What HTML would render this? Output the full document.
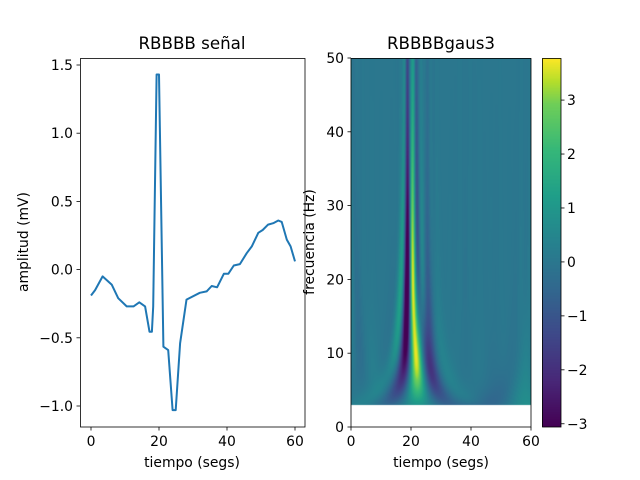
<!DOCTYPE html>
<html><head><meta charset="utf-8">
<style>
body{margin:0;background:#fff;}
svg text{font-family:"DejaVu Sans","Liberation Sans",sans-serif;fill:#000;}
</style></head>
<body>
<div style="position:relative;width:640px;height:480px">
<canvas id="hm" width="180" height="369" style="position:absolute;left:351px;top:58px"></canvas>
<canvas id="cb" width="19" height="369" style="position:absolute;left:542px;top:58px"></canvas>
<svg id="s" width="640" height="480" style="position:absolute;left:0;top:0"></svg>
</div>
<script>
const times=[0,1.2,3.4,6.1,8,10.5,12.5,14.2,15.9,17.2,17.9,18.3,19.3,20,21.3,22.7,24,24.9,26.2,28.1,32,34,35.5,37.1,39.1,40.4,42,43.8,45.8,47.3,49.2,50.5,52.1,53.6,55.1,56.1,57.6,58.7,60];
const amps=[-0.19,-0.15,-0.05,-0.11,-0.21,-0.27,-0.27,-0.24,-0.27,-0.455,-0.455,-0.27,1.43,1.43,-0.565,-0.59,-1.03,-1.03,-0.54,-0.22,-0.17,-0.16,-0.12,-0.13,-0.03,-0.03,0.03,0.04,0.12,0.17,0.27,0.29,0.33,0.34,0.36,0.35,0.22,0.17,0.06];
const xTicksL=[0,20,40,60];
const yTicksL=[-1.0,-0.5,0.0,0.5,1.0,1.5];
const xTicksR=[0,20,40,60];
const yTicksR=[0,10,20,30,40,50];
const cbTicks=[-3,-2,-1,0,1,2,3];
const freqRange=[3,50];
const cRange=[-3.06,3.78];

const S=document.getElementById('s');const NS='http://www.w3.org/2000/svg';
function el(t,a,txt){const e=document.createElementNS(NS,t);for(const k in a)e.setAttribute(k,a[k]);if(txt!==undefined)e.textContent=txt;S.appendChild(e);return e;}
const FS=13.9, TS=16.7;
const lx=t=>91+(t-0)*(295-91)/60;
const ly=v=>406-(v+1)*136.4;
let d='';times.forEach((t,i)=>{d+=(i?'L':'M')+lx(t).toFixed(1)+','+ly(amps[i]).toFixed(1);});
let p=el('path',{d:d,fill:'none',stroke:'#1f77b4','stroke-width':2,'stroke-linejoin':'round'});


let r=el('rect',{x:80.5,y:58.5,width:224.5,height:368.5,fill:'none',stroke:'#000','stroke-width':0.8});

xTicksL.forEach(t=>{const x=lx(t);el('line',{x1:x,x2:x,y1:427,y2:430.5,stroke:'#000','stroke-width':0.8});
 const tx=el('text',{x:x,y:446,'font-size':FS,'text-anchor':'middle'},String(t));
 });
yTicksL.forEach(v=>{const y=ly(v);el('line',{x1:76.5,x2:80,y1:y,y2:y,stroke:'#000','stroke-width':0.8});
 const tx=el('text',{x:73,y:y+5,'font-size':FS,'text-anchor':'end'},(v<0?'\u2212':'')+Math.abs(v).toFixed(1));
 });
let t1=el('text',{x:192,y:49,'font-size':TS,'text-anchor':'middle'},'RBBBB señal');
let t2=el('text',{x:192,y:467,'font-size':FS,'text-anchor':'middle'},'tiempo (segs)');
let t3=el('text',{x:0,y:0,'font-size':FS,'text-anchor':'middle',transform:'translate(28,242) rotate(-90)'},'amplitud (mV)');
const rx=t=>351+t*3;const ry=f=>427-f*7.38;
let r2=el('rect',{x:351,y:58.5,width:180,height:368.5,fill:'none',stroke:'#000','stroke-width':0.8});

xTicksR.forEach(t=>{const x=rx(t);el('line',{x1:x,x2:x,y1:427,y2:430.5,stroke:'#000','stroke-width':0.8});
 const tx=el('text',{x:x,y:446,'font-size':FS,'text-anchor':'middle'},String(t));
 });
yTicksR.forEach(f=>{const y=ry(f);el('line',{x1:347.5,x2:351,y1:y,y2:y,stroke:'#000','stroke-width':0.8});
 const tx=el('text',{x:344,y:y+5,'font-size':FS,'text-anchor':'end'},String(f));
 });
let t4=el('text',{x:441,y:49,'font-size':TS,'text-anchor':'middle'},'RBBBBgaus3');
let t5=el('text',{x:441,y:467,'font-size':FS,'text-anchor':'middle'},'tiempo (segs)');
let t6=el('text',{x:0,y:0,'font-size':FS,'text-anchor':'middle',transform:'translate(314,242) rotate(-90)'},'frecuencia (Hz)');
const cy=v=>427-(v-cRange[0])/(cRange[1]-cRange[0])*369;
let r3=el('rect',{x:542.5,y:58.5,width:18.5,height:368.5,fill:'none',stroke:'#000','stroke-width':0.8});

cbTicks.forEach(v=>{const y=cy(v);el('line',{x1:561,x2:564.5,y1:y,y2:y,stroke:'#000','stroke-width':0.8});
 const tx=el('text',{x:567,y:y+5,'font-size':FS},(v<0?'\u2212':'')+Math.abs(v));
 });

const VS=[[68,1,84],[72,40,120],[62,73,137],[49,104,142],[38,130,142],[31,158,137],[53,183,121],[110,206,88],[181,222,43],[253,231,37]];
const VP=[0,.125,.25,.375,.5,.625,.75,.875,.9375,1];
function vir(u){u=Math.max(0,Math.min(1,u));let i=0;while(i<VP.length-2&&u>VP[i+1])i++;const k=(u-VP[i])/(VP[i+1]-VP[i]);return VS[i].map((c,j)=>c+(VS[i+1][j]-c)*k);}
const dt=0.1,N=601,sig=new Float64Array(N);
for(let i=0;i<N;i++){const t=i*dt;let j=0;while(j<times.length-2&&t>times[j+1])j++;const k=(t-times[j])/(times[j+1]-times[j]);sig[i]=amps[j]+(amps[j+1]-amps[j])*Math.max(0,Math.min(1,k));}
const psi=x=>(x*x*x-3*x)*Math.exp(-x*x/2);
const H=Math.round(ry(freqRange[0])-58);
const W=180,vals=[];let mx=0;
for(let py=0;py<H;py++){const f=50-(py+0.5)/7.38;const sg=22/f;const row=new Float64Array(W);
 for(let px=0;px<W;px++){const t=(px+0.5)/3;let s=0;const lo=Math.max(0,Math.floor((t-4.5*sg)/dt)),hi=Math.min(N-1,Math.ceil((t+4.5*sg)/dt));
  for(let i=lo;i<=hi;i++){s+=sig[i]*psi((i*dt-t)/sg);}row[px]=s*dt/sg;if(row[px]>mx)mx=row[px];}
 vals.push(row);}
const hc=document.getElementById('hm').getContext('2d');const img=hc.createImageData(W,369);
for(let py=0;py<369;py++)for(let px=0;px<W;px++){const o=(py*W+px)*4;
 if(py<H){const v=vals[py][px]/mx*3.7;const c=vir((v-cRange[0])/(cRange[1]-cRange[0]));img.data[o]=c[0];img.data[o+1]=c[1];img.data[o+2]=c[2];img.data[o+3]=255;}
 else{img.data[o]=255;img.data[o+1]=255;img.data[o+2]=255;img.data[o+3]=255;}}
hc.putImageData(img,0,0);
const cc=document.getElementById('cb').getContext('2d');
for(let py=0;py<369;py++){const c=vir(1-py/368);cc.fillStyle='rgb('+c.map(Math.round).join(',')+')';cc.fillRect(0,py,19,1);}
</script>
</body></html>
